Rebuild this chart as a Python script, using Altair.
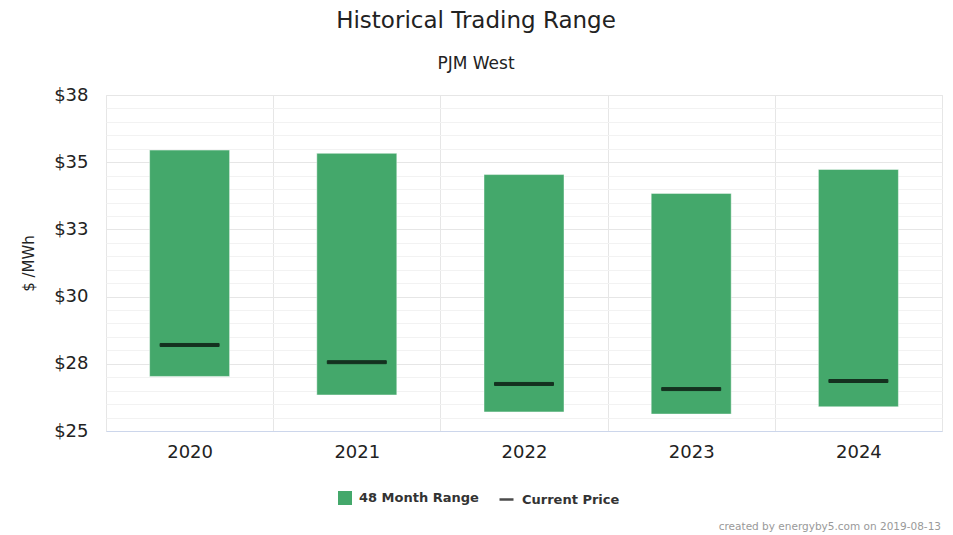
import altair as alt
import pandas as pd

years = ["2020", "2021", "2022", "2023", "2024"]
range_low = [27.03, 26.34, 25.71, 25.63, 25.90]
range_high = [35.45, 35.33, 34.54, 33.84, 34.73]
current_price = [28.20, 27.56, 26.75, 26.56, 26.86]
y_ticks = [25 + 0.5 * i for i in range(26)]

FONT = "DejaVu Sans"
TXT = "#222222"

df = pd.DataFrame({
    "year": years,
    "low": range_low,
    "high": range_high,
    "current": current_price,
    "range_series": ["48 Month Range"] * 5,
    "price_series": ["Current Price"] * 5,
})

x_axis = alt.Axis(
    title=None, labelAngle=0, labelFont=FONT, labelFontSize=18, labelColor=TXT,
    labelPadding=12, ticks=False, tickBand="extent", grid=True,
    gridColor="#e6e6e6", domainColor="#ccd6eb", domainWidth=1,
)
x_scale = alt.Scale(paddingInner=0, paddingOuter=0)

y_axis = alt.Axis(
    title="$ /MWh", titleFont=FONT, titleFontSize=15, titleFontWeight="normal",
    titleColor=TXT, titlePadding=17,
    values=y_ticks, labelExpr="datum.value % 2.5 == 0 ? format(datum.value, '$.0f') : ''",
    labelFont=FONT, labelFontSize=18, labelColor=TXT, labelPadding=18, labelFlush=False,
    labelOverlap=False, ticks=False, tickSize=0, domain=False, grid=True,
    gridColor=alt.condition("datum.value % 2.5 == 0", alt.value("#e6e6e6"), alt.value("#f2f2f2")),
)
y_scale = alt.Scale(domain=[25, 37.5], nice=False, zero=False)

bars = alt.Chart(df).mark_bar(width=80, stroke="#ffffff", strokeOpacity=0.45, strokeWidth=1).encode(
    x=alt.X("year:N", scale=x_scale, axis=x_axis),
    y=alt.Y("low:Q", scale=y_scale, axis=y_axis),
    y2="high:Q",
    fill=alt.Fill(
        "range_series:N",
        scale=alt.Scale(range=["#44a86b"]),
        legend=alt.Legend(
            orient="none", legendX=232, legendY=396, title=None, symbolType="square",
            symbolSize=196, symbolStrokeWidth=0, labelFont=FONT, labelFontSize=13,
            labelFontWeight="bold", labelColor="#333333", labelOffset=7, padding=0,
        ),
    ),
)

ticks = alt.Chart(df).mark_tick(color="black", size=59, thickness=3).encode(
    x=alt.X("year:N", scale=x_scale, axis=x_axis),
    y=alt.Y("current:Q", scale=y_scale, axis=y_axis),
    stroke=alt.Stroke(
        "price_series:N",
        scale=alt.Scale(range=["black"]),
        legend=alt.Legend(
            orient="none", legendX=392, legendY=396, title=None, symbolType="stroke",
            symbolSize=196, symbolStrokeWidth=2.5, labelFont=FONT, labelFontSize=13,
            labelFontWeight="bold", labelColor="#333333", labelOffset=7, padding=0,
        ),
    ),
)

credits = alt.Chart(pd.DataFrame({"t": ["created by energyby5.com on 2019-08-13"]})).mark_text(
    align="right", baseline="alphabetic", font=FONT, fontSize=10.5, color="#999999"
).encode(x=alt.value(835), y=alt.value(435), text="t:N")

chart = alt.layer(bars, ticks, credits).properties(
    width=836,
    height=336,
    autosize=alt.AutoSizeParams(type="none"),
    padding={"left": 98, "top": 87, "right": 3, "bottom": 104},
    title=alt.TitleParams(
        text="Historical Trading Range", subtitle="PJM West", anchor="middle", dx=-48,
        font=FONT, fontSize=23, fontWeight="normal", color=TXT,
        subtitleFont=FONT, subtitleFontSize=17, subtitleColor=TXT, subtitlePadding=23,
        offset=14,
    ),
).configure_view(stroke="#e6e6e6")

chart.save("out.html", embed_options={"renderer": "svg", "actions": False})
